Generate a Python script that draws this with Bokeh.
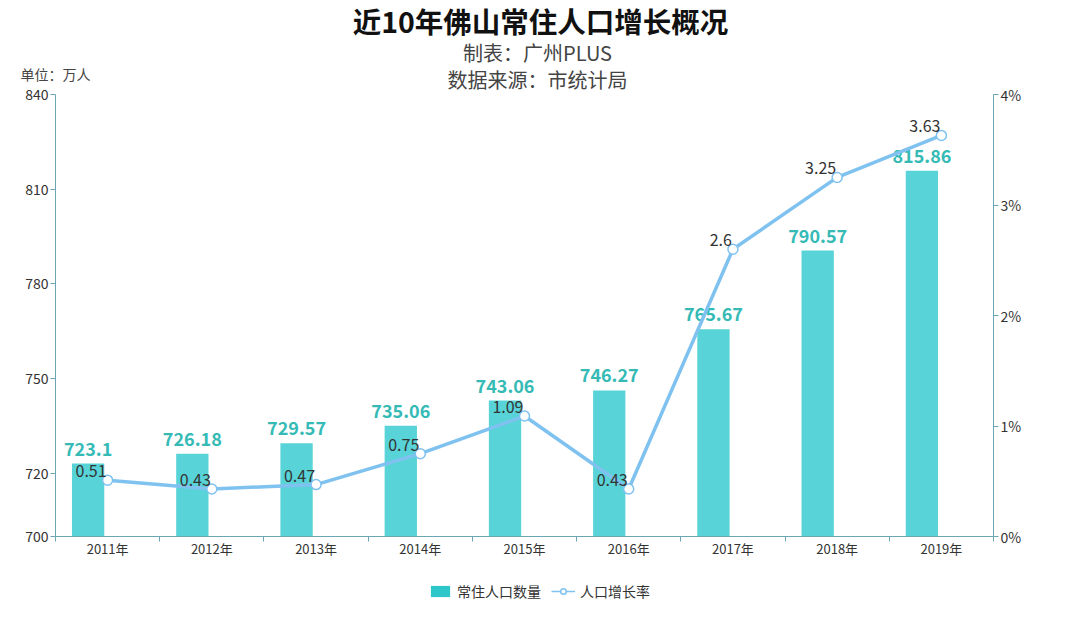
from bokeh.plotting import figure
from bokeh.layouts import column
from bokeh.models import (Range1d, LinearAxis, FixedTicker, PrintfTickFormatter, Label,
                          Legend, LegendItem, ColumnDataSource)
from bokeh.core.properties import value
from bokeh.transform import dodge
from bokeh.embed import file_html
from bokeh.resources import INLINE

title = "近10年佛山常住人口增长概况"
subtitle1 = "制表：广州PLUS"
subtitle2 = "数据来源：市统计局"
unit_label = "单位：万人"
years = ["2011年", "2012年", "2013年", "2014年", "2015年", "2016年", "2017年", "2018年", "2019年"]
population = [723.1, 726.18, 729.57, 735.06, 743.06, 746.27, 765.67, 790.57, 815.86]
growth = [0.51, 0.43, 0.47, 0.75, 1.09, 0.43, 2.6, 3.25, 3.63]
left_ticks = [700, 720, 750, 780, 810, 840]
right_ticks = [0, 1, 2, 3, 4]
series_names = ["常住人口数量", "人口增长率"]

FONT = "Noto Sans CJK SC"
W = 1064
H_TOP = 96
OVERLAP = 14
H_BOT = 35
H_MAIN = 601 - H_TOP - H_BOT + OVERLAP
BAR = "#58d3d7"
LINE = "#7fc2f0"
AX = "#6aa6b3"

# ---------- header (titles) ----------
t = figure(width=W, height=H_TOP, x_range=Range1d(0, W), y_range=Range1d(H_TOP, 0),
           output_backend="svg", toolbar_location=None, x_axis_type=None, y_axis_type=None,
           min_border=0, frame_align=False)
t.outline_line_color = None
t.add_layout(Label(x=540, y=20, text=title, text_align="center", text_baseline="middle",
                   text_font=FONT, text_font_size="28.5px", text_font_style="bold",
                   text_color="#111111"))
t.add_layout(Label(x=537, y=52, text=subtitle1, text_align="center", text_baseline="middle",
                   text_font=FONT, text_font_size="20px", text_color="#444444"))
t.add_layout(Label(x=537, y=79, text=subtitle2, text_align="center", text_baseline="middle",
                   text_font=FONT, text_font_size="20px", text_color="#444444"))
t.add_layout(Label(x=20, y=73, text=unit_label, text_align="left", text_baseline="middle",
                   text_font=FONT, text_font_size="14px", text_color="#444444"))

# ---------- main chart ----------
idx = list(range(len(years)))
src = ColumnDataSource(dict(
    x=idx,
    pop=population,
    rate=growth,
    pop_txt=[f"{v:g}" for v in population],
    rate_txt=[f"{v:g}" for v in growth],
))

p = figure(width=W, height=H_MAIN, output_backend="svg", toolbar_location=None,
           x_range=Range1d(-0.5, len(years) - 0.5), y_range=Range1d(700, 840),
           min_border_left=55, min_border_right=71, min_border_top=12, min_border_bottom=30,
           frame_align=False, margin=(-OVERLAP, 0, 0, 0))
p.outline_line_color = None
p.border_fill_alpha = 0
p.background_fill_alpha = 0
p.xgrid.visible = False
p.ygrid.visible = False

xa = p.xaxis[0]
xa.ticker = FixedTicker(ticks=idx, minor_ticks=[i - 0.5 for i in idx] + [len(idx) - 0.5])
xa.major_label_overrides = {i: y for i, y in zip(idx, years)}
xa.major_tick_line_color = None
xa.major_tick_out = 0
xa.major_tick_in = 0
xa.minor_tick_line_color = AX
xa.minor_tick_out = 5
xa.minor_tick_in = 0
xa.axis_line_color = AX
xa.major_label_text_font = FONT
xa.major_label_text_font_size = "13px"
xa.major_label_text_color = "#333333"
xa.major_label_standoff = -3

ya = p.yaxis[0]
ya.ticker = FixedTicker(ticks=left_ticks)
ya.axis_line_color = AX
ya.major_tick_line_color = AX
ya.major_tick_out = 5
ya.major_tick_in = 0
ya.minor_tick_line_color = None
ya.major_label_standoff = 2
ya.major_label_text_font = FONT
ya.major_label_text_font_size = "14px"
ya.major_label_text_color = "#333333"

p.extra_y_ranges = {"rate": Range1d(0, 4)}
ra = LinearAxis(y_range_name="rate", ticker=FixedTicker(ticks=right_ticks),
                formatter=PrintfTickFormatter(format="%d%%"))
ra.axis_line_color = AX
ra.major_tick_line_color = AX
ra.major_tick_out = 5
ra.major_tick_in = 0
ra.minor_tick_line_color = None
ra.major_label_standoff = 2
ra.major_label_text_font = FONT
ra.major_label_text_font_size = "14px"
ra.major_label_text_color = "#333333"
p.add_layout(ra, "right")

p.vbar(x=dodge("x", -0.187), top="pop", bottom=700, width=0.31, source=src,
       fill_color=BAR, line_color=None)
p.text(x=dodge("x", -0.187), y="pop", text="pop_txt", source=src, y_offset=-8,
       text_align="center", text_baseline="bottom", text_font=value(FONT),
       text_font_size="18px", text_font_style="bold", text_color="#35bab6")

p.line(x="x", y="rate", y_range_name="rate", source=src, line_color=LINE, line_width=3.5)
p.scatter(x="x", y="rate", y_range_name="rate", source=src, size=10, marker="circle",
          fill_color="white", line_color=LINE, line_width=1.5)
p.text(x="x", y="rate", y_range_name="rate", text="rate_txt", source=src,
       x_offset=-1, y_offset=-9, text_align="right", text_baseline="middle",
       text_font=value(FONT), text_font_size="16px", text_color="#333333")

# ---------- legend strip (same series, kept out of view; only the legend shows) ----------
lg = figure(width=W, height=H_BOT, x_range=Range1d(-3, -2), y_range=Range1d(-2, -1),
            output_backend="svg", toolbar_location=None, x_axis_type=None, y_axis_type=None,
            min_border=0, frame_align=False)
lg.outline_line_color = None
lb = lg.vbar(x="x", top="pop", bottom=700, width=0.3, source=src,
             fill_color="#2ec7c9", line_color=None)
ll = lg.line(x="x", y="rate", source=src, line_color=LINE, line_width=1.5)
ls = lg.scatter(x="x", y="rate", source=src, size=10, marker="circle",
                fill_color="white", line_color=LINE, line_width=1.5)
legend = Legend(items=[LegendItem(label=series_names[0], renderers=[lb]),
                       LegendItem(label=series_names[1], renderers=[ll, ls])],
                orientation="horizontal", location=(428, 0), margin=0, padding=0,
                label_text_font=FONT, label_text_font_size="14px", label_text_color="#333333",
                glyph_width=24, glyph_height=14, label_standoff=5, spacing=10,
                border_line_color=None, background_fill_alpha=0)
lg.add_layout(legend, "center")

layout = column(t, p, lg, spacing=0)
open("out.html", "w").write(file_html(layout, INLINE))
